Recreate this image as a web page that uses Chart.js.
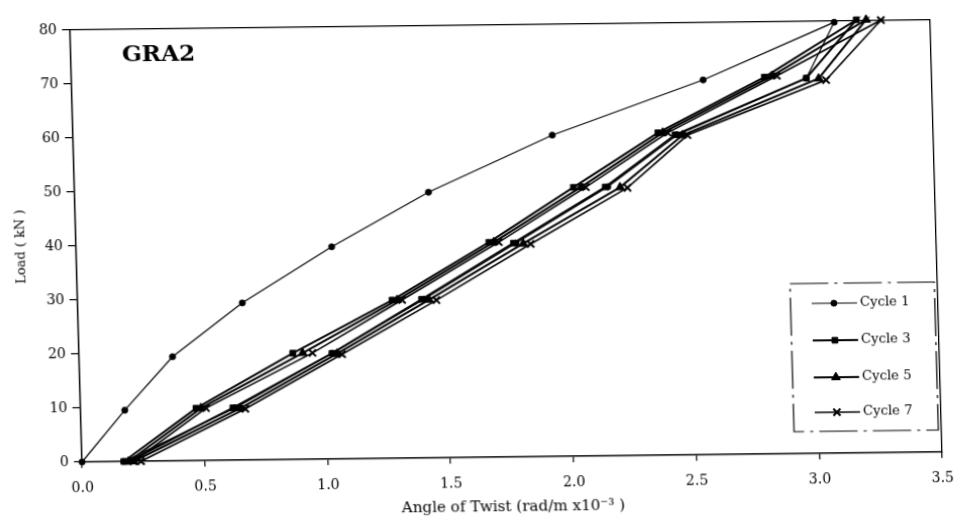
<!DOCTYPE html>
<html>
<head>
<meta charset="utf-8">
<script src="https://cdn.jsdelivr.net/npm/chart.js@4.4.1/dist/chart.umd.min.js"></script>
<style>
html,body{margin:0;padding:0;background:#fff;overflow:hidden}
#wrap{position:relative;width:957px;height:521px;background:#fff}
canvas{display:block}
</style>
</head>
<body>
<div id="wrap"><canvas id="c" width="957" height="521"></canvas></div>
<script>
// ---- data ----
const chartTitle = 'GRA2';
const seriesNames = ['Cycle 1', 'Cycle 3', 'Cycle 5', 'Cycle 7'];
const xTickValues = [0, 0.5, 1.0, 1.5, 2.0, 2.5, 3.0, 3.5];
const yTickValues = [0, 10, 20, 30, 40, 50, 60, 70, 80];
const xAxisLabel = 'Angle of Twist (rad/m x10\u207B\u00B3 )';
const yAxisLabel = 'Load ( kN )';

const cycle1Twist = [0, 0.18, 0.38, 0.67, 1.04, 1.44, 1.95, 2.57, 3.11, 2.99, 2.46, 2.17, 1.79, 1.41, 1.03, 0.63, 0.17];
const cycle1Load  = [0, 9.5, 19.3, 29.1, 39.3, 49.2, 59.5, 69.4, 79.8, 69.5, 59.3, 49.8, 39.6, 29.4, 19.6, 9.7, 0];

const cycle3Twist = [0.17, 0.47, 0.87, 1.28, 1.68, 2.03, 2.38, 2.82, 3.20, 2.99, 2.45, 2.16, 1.78, 1.40, 1.03, 0.62, 0.19];
const cycle3Load  = [0, 9.7, 19.7, 29.3, 39.8, 49.8, 59.7, 69.8, 80.2, 69.5, 59.3, 49.8, 39.6, 29.4, 19.6, 9.7, 0];

const cycle5Twist = [0.19, 0.49, 0.91, 1.30, 1.70, 2.06, 2.40, 2.85, 3.24, 3.04, 2.48, 2.22, 1.82, 1.43, 1.05, 0.65, 0.21];
const cycle5Load  = [0, 9.7, 19.7, 29.3, 39.8, 49.8, 59.7, 70.0, 80.2, 69.4, 59.2, 49.7, 39.5, 29.3, 19.5, 9.6, 0];

const cycle7Twist = [0.21, 0.51, 0.95, 1.32, 1.72, 2.08, 2.42, 2.87, 3.30, 3.07, 2.50, 2.25, 1.85, 1.46, 1.07, 0.67, 0.24];
const cycle7Load  = [0, 9.7, 19.7, 29.3, 39.8, 49.8, 59.7, 70.0, 80.1, 69.1, 59.2, 49.6, 39.4, 29.2, 19.4, 9.5, 0];

// ---- build ----
function pts(xs, ys) { return xs.map((x, i) => ({x: x, y: ys[i]})); }
const seriesX = [cycle1Twist, cycle3Twist, cycle5Twist, cycle7Twist];
const seriesY = [cycle1Load, cycle3Load, cycle5Load, cycle7Load];
const styles = [
  {pointStyle: 'circle',   pointRadius: 3,   borderWidth: 1.2, pointBorderWidth: 1},
  {pointStyle: 'rect',     pointRadius: 4,   borderWidth: 2,   pointBorderWidth: 1},
  {pointStyle: 'triangle', pointRadius: 5,   borderWidth: 2,   pointBorderWidth: 1},
  {pointStyle: 'crossRot', pointRadius: 5,   borderWidth: 1.6, pointBorderWidth: 2}
];

const datasets = seriesNames.map((name, i) => Object.assign({
  label: name,
  data: pts(seriesX[i], seriesY[i]),
  showLine: true,
  borderColor: '#000',
  backgroundColor: '#000',
  pointBackgroundColor: '#000',
  pointBorderColor: '#000',
  tension: 0,
  clip: false
}, styles[i]));

Chart.defaults.font.family = '"DejaVu Serif", "Liberation Serif", serif';
Chart.defaults.color = '#000';

const decor = {
  id: 'decor',
  afterDraw(chart) {
    const ctx = chart.ctx, ca = chart.chartArea;
    ctx.save();
    ctx.fillStyle = '#000';
    ctx.strokeStyle = '#000';
    // chart title inside plot
    ctx.font = 'bold 23px "DejaVu Serif", serif';
    ctx.textAlign = 'center';
    ctx.textBaseline = 'middle';
    ctx.fillText(chartTitle, ca.left + 87, ca.top + 26);
    // legend box
    const L = ca.right - 146, R = ca.right - 3, T = ca.bottom - 170, B = ca.bottom - 22;
    ctx.lineWidth = 1.2;
    ctx.setLineDash([38, 6, 3, 6]);
    ctx.strokeRect(L, T, R - L, B - T);
    ctx.setLineDash([]);
    const rowOff = [20, 57, 94, 129];
    chart.data.datasets.forEach((ds, i) => {
      const y = T + rowOff[i];
      ctx.lineWidth = ds.borderWidth;
      ctx.beginPath();
      ctx.moveTo(L + 21, y);
      ctx.lineTo(L + 66, y);
      ctx.stroke();
      ctx.lineWidth = ds.pointBorderWidth;
      Chart.helpers.drawPoint(ctx, {
        pointStyle: ds.pointStyle, radius: ds.pointRadius,
        rotation: 0, borderWidth: ds.pointBorderWidth
      }, L + 43, y);
      ctx.font = '13px "DejaVu Serif", serif';
      ctx.textAlign = 'left';
      ctx.textBaseline = 'middle';
      ctx.fillText(ds.label, L + 69, y);
    });
    ctx.restore();
  }
};

const ctxEl = document.getElementById('c');
const chart = new Chart(ctxEl, {
  type: 'scatter',
  data: {datasets: datasets},
  plugins: [decor],
  options: {
    responsive: false,
    animation: false,
    devicePixelRatio: 1,
    layout: {padding: {left: 0, top: 30, right: 17, bottom: 0}},
    plugins: {legend: {display: false}, tooltip: {enabled: false}, title: {display: false}},
    scales: {
      x: {
        type: 'linear', position: 'bottom', min: 0, max: 3.5,
        afterBuildTicks: (s) => { s.ticks = xTickValues.map(v => ({value: v})); },
        afterFit: (s) => { s.height = 59; },
        ticks: {font: {size: 14}, padding: 12, callback: (v) => Number(v).toFixed(1), maxRotation: 0, autoSkip: false},
        grid: {display: true, drawOnChartArea: false, drawTicks: true, tickLength: 6, color: '#000', lineWidth: 1.2},
        border: {display: true, color: '#000', width: 1.5},
        title: {display: true, text: xAxisLabel, font: {size: 15}, padding: {top: 0, bottom: 0}}
      },
      y: {
        type: 'linear', position: 'left', min: 0, max: 80,
        afterBuildTicks: (s) => { s.ticks = yTickValues.map(v => ({value: v})); },
        afterFit: (s) => { s.width = 82; },
        ticks: {font: {size: 14}, padding: 5, autoSkip: false},
        grid: {display: true, drawOnChartArea: false, drawTicks: true, tickLength: 8, color: '#000', lineWidth: 1.2},
        border: {display: true, color: '#000', width: 1.5},
        title: {display: true, text: yAxisLabel, font: {size: 13}, padding: {top: 20, bottom: 0}}
      },
      x2: {
        type: 'linear', position: 'top', min: 0, max: 3.5,
        afterFit: (s) => { s.height = 0; },
        ticks: {display: false},
        grid: {display: false},
        border: {display: true, color: '#000', width: 1.3, dash: [55, 12]}
      },
      y2: {
        type: 'linear', position: 'right', min: 0, max: 80,
        afterFit: (s) => { s.width = 0; },
        ticks: {display: false},
        grid: {display: false},
        border: {display: true, color: '#000', width: 1.3, dash: [60, 10]}
      }
    }
  }
});

// The reference is a slightly skewed scan: map the plot frame onto its corners.
(function skew() {
  const ca = chart.chartArea;
  const W = ca.right - ca.left, H = ca.bottom - ca.top;
  const BL = [82, 462], BR = [942, 452], TL = [70, 30];
  const a = (BR[0] - BL[0]) / W, b = (BR[1] - BL[1]) / W;
  const c = (BL[0] - TL[0]) / H, d = (BL[1] - TL[1]) / H;
  const e = BL[0] - a * ca.left - c * ca.bottom;
  const f = BL[1] - b * ca.left - d * ca.bottom;
  ctxEl.style.transformOrigin = '0 0';
  ctxEl.style.transform = `matrix(${a},${b},${c},${d},${e},${f})`;
})();
</script>
</body>
</html>
